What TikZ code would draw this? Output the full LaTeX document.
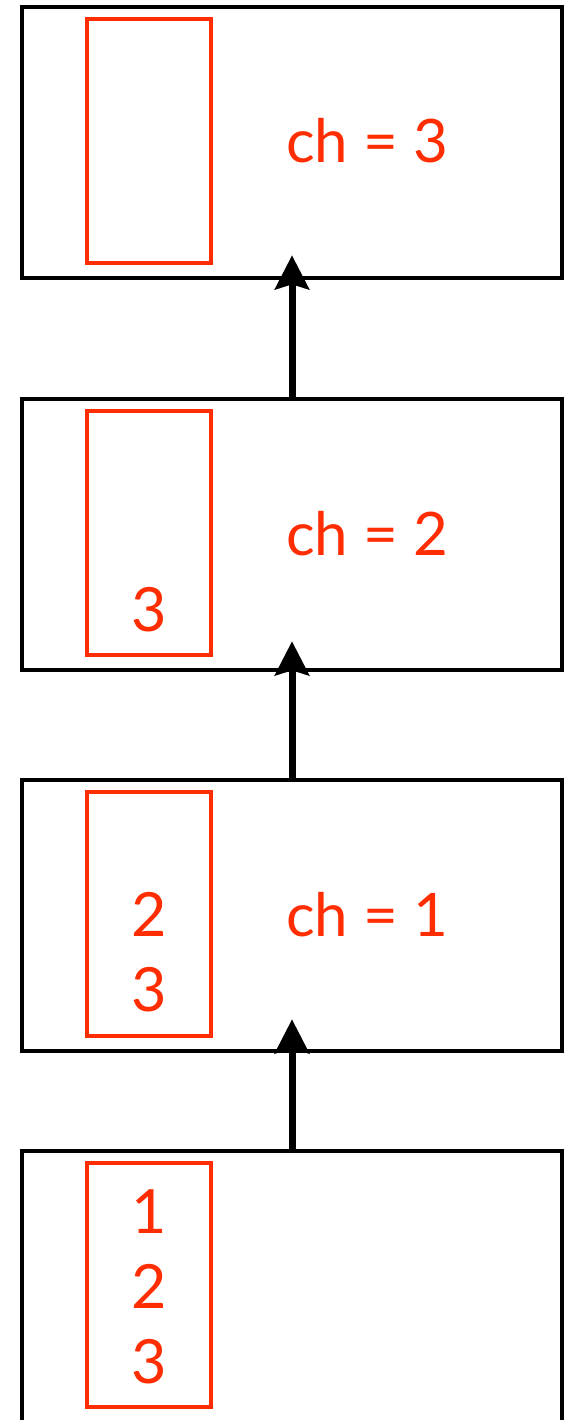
\documentclass[tikz,border=0pt]{standalone}
\usepackage{fontspec}
\setmainfont{Lato}
\usetikzlibrary{arrows.meta}
\definecolor{redline}{RGB}{255,45,0}
\tikzset{
  x=1pt, y=-1pt,
  frame/.style={draw=black, line width=4.6pt, minimum width=540pt, minimum height=271pt, inner sep=0pt},
  stack/.style={draw=redline, line width=4pt, minimum width=124pt, minimum height=244pt, inner sep=0pt},
  lbl/.style={text=redline, inner sep=0pt, anchor=base west, font=\fontsize{60}{75}\selectfont},
  dig/.style={text=redline, inner sep=0pt, anchor=base, font=\fontsize{61}{75}\selectfont},
  uparrow/.style={draw=black, line width=7pt, -{Stealth[length=34pt, width=34pt, inset=5pt]}}
}
\begin{document}
\begin{tikzpicture}
\clip (0,0) rectangle (574,1420);
\fill[white] (0,0) rectangle (574,1420);
% frames
\node[frame] (b1) at (292,142.5) {};
\node[frame] (b2) at (292,534.5) {};
\node[frame] (b3) at (292,915.5) {};
\node[frame] (b4) at (292,1286.5) {};
% stacks
\node[stack] (s1) at (149,141) {};
\node[stack] (s2) at (149,533) {};
\node[stack] (s3) at (149,914) {};
\node[stack] (s4) at (149,1285) {};
% labels
\node[lbl] (l1) at (286,163) {ch = 3};
\node[lbl] (l2) at (286,555) {ch = 2};
\node[lbl] (l3) at (286,936) {ch = 1};
% digits
\node[dig] (d2c) at (149,631) {3};
\node[dig] (d3b) at (149,936) {2};
\node[dig] (d3c) at (149,1011) {3};
\node[dig] (d4a) at (149,1233) {1};
\node[dig] (d4b) at (149,1308) {2};
\node[dig] (d4c) at (149,1383) {3};
% arrows
\draw[uparrow, shorten >=-25pt] (b2.north) -- (b1.south);
\draw[uparrow, shorten >=-31pt] (b3.north) -- (b2.south);
\draw[uparrow, shorten >=-34pt] (b4.north) -- (b3.south);
\end{tikzpicture}
\end{document}
